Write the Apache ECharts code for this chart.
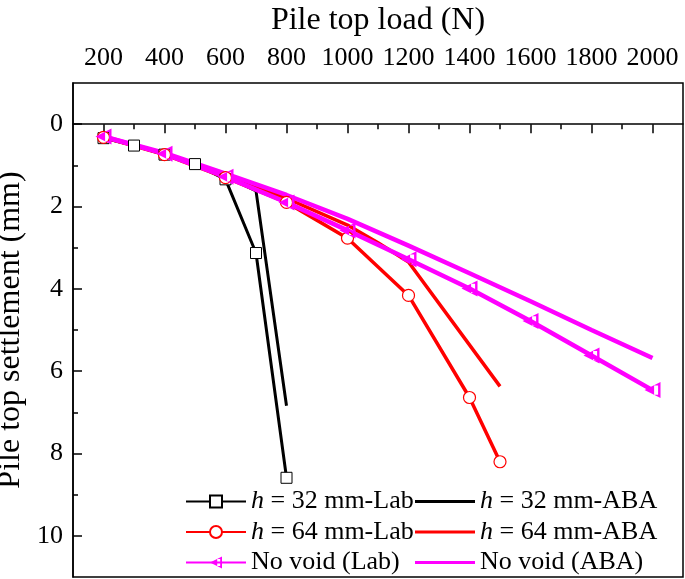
<!DOCTYPE html>
<html><head><meta charset="utf-8">
<script src="https://cdn.jsdelivr.net/npm/echarts@6/dist/echarts.min.js"></script>
<style>html,body{margin:0;padding:0;background:#fff}#c{width:685px;height:579px}</style>
</head><body><div id="c"></div>
<script>
const xTicks = [200,400,600,800,1000,1200,1400,1600,1800,2000];
const xMinorTicks = [300,500,700,900,1100,1300,1500,1700,1900];
const yTicks = [0,2,4,6,8,10];
const yMinorTicks = [1,3,5,7,9];

const seriesNames = ['h = 32 mm-Lab','h = 32 mm-ABA','h = 64 mm-Lab','h = 64 mm-ABA','No void (Lab)','No void (ABA)'];

const loadLab32 = [200,300,400,500,600,700,800];
const settleLab32 = [0.34,0.52,0.74,0.97,1.34,3.13,8.59];
const loadAba32 = [200,400,600,700,800];
const settleAba32 = [0.3,0.73,1.26,1.62,6.84];
const loadLab64 = [200,400,600,800,1000,1200,1400,1500];
const settleLab64 = [0.32,0.74,1.3,1.9,2.77,4.16,6.64,8.2];
const loadAba64 = [200,400,600,800,1000,1100,1200,1500];
const settleAba64 = [0.3,0.72,1.25,1.8,2.45,2.88,3.35,6.37];
const loadLab0 = [200,400,600,800,1000,1200,1400,1600,1800,2000];
const settleLab0 = [0.3,0.72,1.28,1.9,2.58,3.28,3.99,4.78,5.62,6.46];
const loadAba0 = [200,400,600,800,1000,1200,1400,1600,1800,2000];
const settleAba0 = [0.3,0.7,1.2,1.72,2.3,2.95,3.62,4.3,5.0,5.68];

const FF = 'Liberation Serif';
const zip = (a,b) => a.map((v,i)=>[v,b[i]]);
const lineIcon = 'path://M0,0H60V3.2H0Z';
const leftTri = 'path://M0,10L20,0L20,20Z M12,4.2L12,15.8L17,15.8L17,4.2Z';

const chart = echarts.init(document.getElementById('c'));
const legendText = {fontFamily:FF,fontSize:26,color:'#000',lineHeight:26,
  rich:{i:{fontFamily:FF,fontSize:26,fontStyle:'italic',color:'#000',lineHeight:26}}};
const fmt = n => n.charAt(0)==='h' ? '{i|h}'+n.slice(1) : n;
const axisBase = {color:'#000',width:1.5};
const legendBase = {orient:'vertical',top:488.5,height:120,padding:0,itemWidth:60,itemHeight:15,itemGap:4.5,
  selectedMode:false,textStyle:legendText,formatter:fmt};
chart.setOption({
  animation:false,
  backgroundColor:'#fff',
  grid:{left:73,top:83,right:2,bottom:2,show:true,borderColor:'#000',borderWidth:1.5,outerBoundsMode:'none'},
  legend:[
    Object.assign({left:185,data:[{name:seriesNames[0]},{name:seriesNames[2]},{name:seriesNames[4]}]},legendBase),
    Object.assign({left:415,data:[{name:seriesNames[1],icon:lineIcon},{name:seriesNames[3],icon:lineIcon},{name:seriesNames[5],icon:lineIcon}]},legendBase)
  ],
  xAxis:[
    {type:'value',position:'top',min:100,max:2100,interval:100,
     name:'Pile top load (N)',nameLocation:'middle',nameGap:46,
     nameTextStyle:{fontFamily:FF,fontSize:32,color:'#000'},
     axisLine:{show:true,lineStyle:axisBase},
     axisTick:{show:true,inside:true,length:9,customValues:xTicks,lineStyle:axisBase},
     axisLabel:{customValues:xTicks,formatter:v=>String(v),fontFamily:FF,fontSize:26,color:'#000',margin:12},
     splitLine:{show:false}},
    {type:'value',position:'top',min:100,max:2100,interval:100,
     axisLine:{show:false},
     axisTick:{show:true,inside:true,length:5,customValues:xMinorTicks,lineStyle:axisBase},
     axisLabel:{show:false},splitLine:{show:false}}
  ],
  yAxis:[
    {type:'value',inverse:true,min:-1,max:11,interval:1,
     name:'Pile top settlement (mm)',nameLocation:'middle',nameGap:34,
     nameTextStyle:{fontFamily:FF,fontSize:32,color:'#000'},
     axisLine:{show:true,lineStyle:axisBase},
     axisTick:{show:true,inside:true,length:9,customValues:yTicks,lineStyle:axisBase},
     axisLabel:{customValues:yTicks,formatter:v=>String(v),fontFamily:FF,fontSize:26,color:'#000',margin:10},
     splitLine:{show:false}},
    {type:'value',inverse:true,min:-1,max:11,interval:1,position:'left',
     axisLine:{show:false},
     axisTick:{show:true,inside:true,length:5,customValues:yMinorTicks,lineStyle:axisBase},
     axisLabel:{show:false},splitLine:{show:false}}
  ],
  series:[
    {name:seriesNames[0],type:'line',data:zip(loadLab32,settleLab32),symbol:'rect',symbolSize:11,
     lineStyle:{color:'#000',width:3},itemStyle:{color:'#fff',borderColor:'#000',borderWidth:1}},
    {name:seriesNames[1],type:'line',data:zip(loadAba32,settleAba32),symbol:'none',
     lineStyle:{color:'#000',width:3},itemStyle:{color:'#000'}},
    {name:seriesNames[2],type:'line',data:zip(loadLab64,settleLab64),symbol:'circle',symbolSize:12,
     lineStyle:{color:'#ff0000',width:3.5},itemStyle:{color:'#fff',borderColor:'#ff0000',borderWidth:1.2}},
    {name:seriesNames[3],type:'line',data:zip(loadAba64,settleAba64),symbol:'none',
     lineStyle:{color:'#ff0000',width:3.5},itemStyle:{color:'#ff0000'}},
    {name:seriesNames[4],type:'line',data:zip(loadLab0,settleLab0),symbol:leftTri,symbolSize:16,
     lineStyle:{color:'#ff00ff',width:4.5},itemStyle:{color:'#ff00ff',borderWidth:0}},
    {name:seriesNames[5],type:'line',data:zip(loadAba0,settleAba0),symbol:'none',
     lineStyle:{color:'#ff00ff',width:4.5},itemStyle:{color:'#ff00ff'}}
  ]
});
</script></body></html>
